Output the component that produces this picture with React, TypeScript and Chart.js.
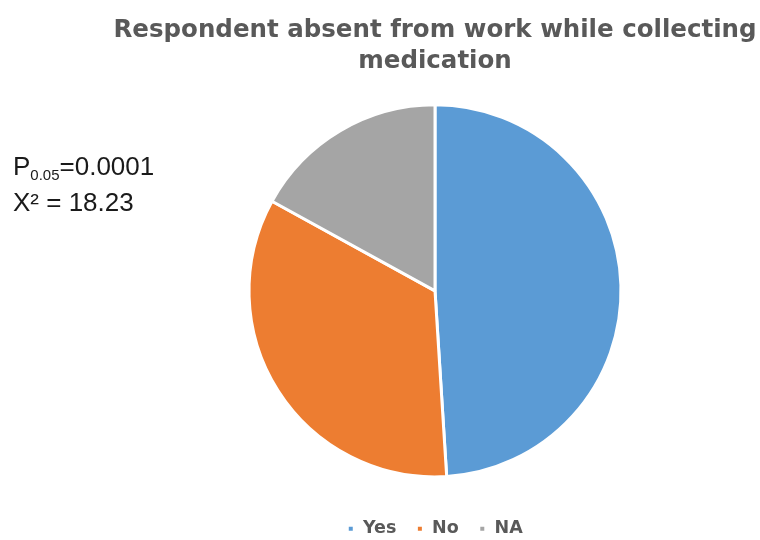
import React, { useEffect, useRef } from "react";
import { Chart, registerables } from "chart.js";

Chart.register(...registerables);

const titleLines = ["Respondent absent from work while collecting", "medication"];
const categories = ["Yes", "No", "NA"];
const values = [49, 34, 17];
const colors = ["#5B9BD5", "#ED7D31", "#A5A5A5"];

export default function App() {
  const ref = useRef<HTMLCanvasElement | null>(null);

  useEffect(() => {
    if (!ref.current) return;
    const chart = new Chart(ref.current, {
      type: "pie",
      data: {
        labels: categories,
        datasets: [
          {
            data: values,
            backgroundColor: colors,
            borderColor: "#ffffff",
            borderWidth: 3,
            radius: 186,
          },
        ],
      },
      options: {
        responsive: false,
        animation: false,
        layout: { padding: { left: 110, right: 0, top: 0, bottom: 0 } },
        plugins: {
          title: {
            display: true,
            text: titleLines,
            color: "#595959",
            font: { family: "'DejaVu Sans'", size: 24.5, weight: "bold", lineHeight: 1.26 },
            padding: { top: 15, bottom: 5 },
          },
          legend: {
            position: "bottom",
            maxHeight: 40,
            labels: {
              color: "#595959",
              font: { family: "'DejaVu Sans'", size: 17.5, weight: "bold" },
              boxWidth: 7,
              boxHeight: 7,
              padding: 20,
            },
          },
          tooltip: { enabled: false },
        },
      },
    });
    return () => chart.destroy();
  }, []);

  return (
    <div
      style={{
        position: "fixed",
        left: 0,
        top: 0,
        width: 760,
        height: 540,
        background: "#ffffff",
        overflow: "hidden",
      }}
    >
      <canvas ref={ref} width={760} height={540} style={{ position: "absolute", left: 0, top: 0 }} />
      <div
        style={{
          position: "absolute",
          left: 13,
          top: 150,
          fontFamily: "'Liberation Sans', Arial, sans-serif",
          fontSize: 26,
          lineHeight: "33px",
          color: "#1a1a1a",
          whiteSpace: "nowrap",
        }}
      >
        <div>
          P<span style={{ fontSize: 15, position: "relative", top: 5 }}>0.05</span>=0.0001
        </div>
        <div>X² = 18.23</div>
      </div>
    </div>
  );
}
